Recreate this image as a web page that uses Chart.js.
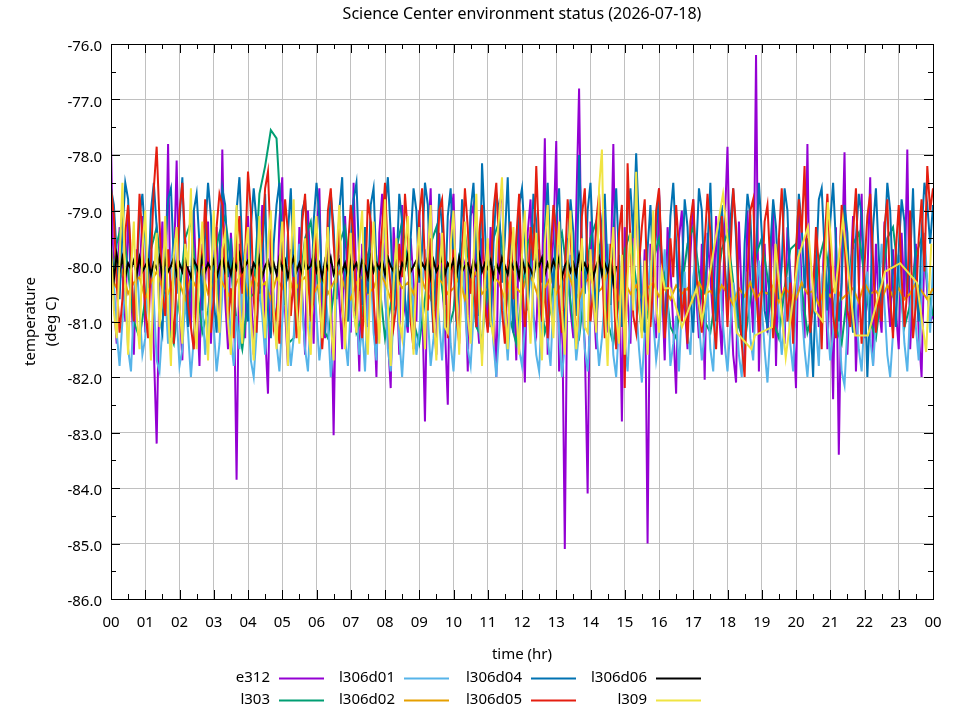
<!DOCTYPE html>
<html>
<head>
<meta charset="utf-8">
<title>Science Center environment status</title>
<script src="https://cdn.jsdelivr.net/npm/chart.js@4.4.1/dist/chart.umd.min.js"></script>
<style>
  html, body { margin: 0; padding: 0; background: #fff; }
  #wrap { width: 960px; height: 720px; }
</style>
</head>
<body>
<div id="wrap"><canvas id="envChart" width="960" height="720"></canvas></div>
<script>
// ---------------------------------------------------------------
// Data (deg C). Most sensors: one value every
// 5 minutes (12 per row = 1 hour). l303 / l306d02: every 10 minutes.
// ---------------------------------------------------------------
const hourLabels = ["00","01","02","03","04","05","06","07","08","09","10","11",
                    "12","13","14","15","16","17","18","19","20","21","22","23","00"];
const tempTicks = [-86, -85, -84, -83, -82, -81, -80, -79, -78, -77, -76];
const tempLabels = ["-86.0","-85.0","-84.0","-83.0","-82.0","-81.0","-80.0","-79.0","-78.0","-77.0","-76.0"];

const e312 = [
  -77.8,-80.6,-81.4,-79.3,-80.1,-81.0,-79.0,-80.4,-81.6,-79.7,-80.2,-79.1,
  -81.2,-80.0,-79.4,-81.5,-83.2,-80.3,-79.2,-80.8,-77.8,-81.3,-80.1,-78.1,
  -80.7,-81.7,-79.5,-80.2,-81.1,-79.0,-80.5,-81.8,-79.6,-80.3,-79.2,-81.4,
  -80.0,-79.3,-81.2,-77.9,-80.6,-81.5,-79.4,-80.2,-83.85,-79.6,-80.9,-81.3,
  -79.1,-80.4,-81.6,-79.8,-80.0,-78.9,-81.2,-82.3,-79.5,-80.7,-81.0,-79.2,
  -78.4,-80.8,-81.8,-79.7,-80.3,-81.1,-79.3,-80.5,-81.6,-79.0,-80.2,-81.4,
  -79.5,-78.6,-80.9,-81.3,-79.4,-80.1,-83.05,-79.8,-80.6,-81.5,-79.1,-80.3,
  -81.2,-78.5,-80.4,-81.9,-79.6,-80.0,-81.1,-79.2,-80.7,-82.0,-79.4,-78.7,
  -80.5,-81.3,-82.2,-79.3,-80.1,-81.6,-78.9,-80.8,-81.2,-79.5,-80.3,-81.0,
  -79.0,-80.6,-82.8,-79.7,-78.6,-80.9,-81.6,-79.4,-80.2,-81.1,-82.5,-79.2,
  -78.7,-80.5,-81.3,-79.8,-80.0,-81.9,-79.1,-78.9,-80.7,-81.4,-79.5,-80.2,
  -81.1,-79.3,-80.6,-82.0,-79.0,-78.6,-80.4,-81.5,-79.6,-80.1,-81.7,-79.2,
  -80.5,-82.1,-79.4,-78.8,-80.9,-81.2,-79.7,-80.3,-77.7,-81.6,-80.2,-79.5,
  -77.75,-81.9,-80.4,-85.1,-79.5,-80.8,-81.3,-79.0,-76.8,-80.6,-81.4,-84.1,
  -79.2,-80.5,-81.5,-79.6,-80.1,-79.0,-81.2,-80.4,-77.8,-81.0,-79.8,-82.8,
  -79.3,-80.6,-81.4,-79.1,-78.9,-80.2,-81.0,-79.7,-85.0,-79.6,-80.9,-81.3,
  -78.6,-80.3,-81.7,-79.3,-80.0,-81.1,-82.3,-79.5,-79.0,-80.7,-81.5,-79.8,
  -78.8,-80.5,-81.3,-79.6,-82.05,-79.4,-80.2,-81.0,-79.1,-80.8,-81.6,-79.3,
  -77.85,-80.4,-81.6,-82.1,-79.2,-80.6,-81.7,-79.0,-80.3,-81.2,-76.2,-81.9,
  -80.0,-79.6,-81.2,-80.5,-78.9,-81.8,-79.5,-80.7,-81.4,-79.3,-80.1,-81.0,
  -82.2,-79.0,-80.4,-81.3,-77.8,-81.4,-80.2,-79.8,-81.1,-80.6,-79.4,-81.5,
  -80.0,-82.4,-79.3,-83.4,-80.1,-77.95,-81.6,-80.3,-79.1,-81.9,-80.5,-78.7,
  -81.3,-80.2,-78.4,-81.8,-79.6,-80.7,-81.2,-79.2,-80.4,-81.1,-79.7,-80.8,
  -81.5,-79.4,-80.6,-77.9,-81.5,-80.3,-79.6,-81.2,-82.0,-79.6,-80.5,-81.0,
  -80.9
];

// 10-minute samples
const l303 = [
  -80.4,-79.6,-79.2,-80.1,-81.0,-81.3,-80.6,-79.7,-79.3,-80.2,
  -81.1,-81.4,-80.5,-79.5,-79.2,-80.3,-81.2,-80.8,-79.9,-79.4,
  -79.1,-80.0,-81.0,-81.5,-80.6,-80.5,-78.7,-78.2,-77.55,-77.7,
  -79.5,-81.4,-81.3,-80.4,-79.5,-79.2,-80.1,-81.1,-81.3,-80.5,
  -79.6,-79.3,-80.2,-81.2,-80.9,-79.8,-79.4,-80.3,-81.3,-80.7,
  -79.7,-79.2,-80.0,-81.0,-81.4,-80.6,-79.6,-79.3,-80.4,-81.2,
  -80.8,-79.8,-79.4,-80.2,-81.1,-81.3,-80.3,-79.5,-79.2,-80.1,
  -81.0,-81.4,-80.5,-79.6,-79.3,-80.3,-81.2,-80.8,-79.7,-79.4,
  -80.2,-81.1,-81.3,-80.4,-79.5,-79.2,-80.1,-81.0,-81.4,-80.6,
  -79.7,-79.4,-80.3,-81.2,-80.9,-79.9,-79.5,-80.2,-81.1,-81.3,
  -80.4,-79.6,-79.3,-80.1,-81.0,-81.2,-80.5,-79.7,-79.4,-80.3,
  -81.1,-81.4,-80.6,-79.8,-79.5,-80.2,-81.0,-81.3,-80.4,-79.7,
  -79.6,-80.4,-81.2,-80.8,-79.9,-79.5,-80.3,-81.1,-81.4,-80.5,
  -79.6,-79.4,-80.2,-81.0,-81.3,-80.4,-79.5,-79.3,-80.2,-81.1,
  -80.7,-79.8,-79.5,-80.3,-80.9
];

const l306d01 = [
  -79.6,-80.3,-81.2,-81.8,-81.0,-80.4,-81.5,-81.9,-80.7,-79.9,-80.8,-81.6,
  -81.3,-80.2,-79.7,-80.6,-81.7,-81.9,-81.1,-80.5,-81.4,-80.0,-79.5,-80.9,
  -81.8,-81.5,-80.6,-81.2,-82.0,-81.3,-80.1,-79.8,-80.7,-81.6,-81.0,-80.3,
  -81.1,-81.9,-81.4,-80.5,-79.6,-80.4,-81.3,-81.8,-80.9,-81.5,-80.2,-79.7,
  -80.6,-81.7,-82.0,-81.2,-80.4,-80.9,-81.6,-80.8,-79.9,-80.5,-81.4,-81.9,
  -81.0,-80.3,-81.1,-81.8,-81.3,-80.2,-79.6,-80.7,-81.5,-81.9,-80.8,-80.1,
  -80.9,-81.7,-81.2,-80.4,-81.0,-82.0,-81.4,-80.6,-79.8,-80.5,-81.3,-81.8,
  -80.7,-79.9,-80.8,-81.6,-81.1,-81.9,-80.5,-80.0,-81.2,-81.7,-80.3,-79.5,
  -80.4,-81.5,-81.9,-80.9,-80.2,-81.3,-82.0,-81.1,-80.6,-79.9,-80.8,-81.6,
  -81.2,-80.5,-79.7,-80.9,-81.8,-81.3,-80.4,-81.0,-81.7,-80.6,-80.0,-81.4,
  -81.9,-81.0,-80.3,-79.8,-80.7,-81.5,-81.8,-80.9,-80.2,-81.1,-81.6,-80.4,
  -79.6,-80.6,-81.4,-82.0,-81.2,-80.5,-81.0,-81.7,-80.8,-79.9,-80.6,-81.5,
  -81.8,-81.1,-80.3,-79.7,-80.9,-81.6,-81.9,-80.7,-80.1,-81.3,-81.8,-80.6,
  -80.0,-81.2,-82.0,-81.4,-80.5,-79.8,-80.8,-81.7,-81.2,-80.4,-81.5,-81.9,
  -80.9,-80.2,-81.1,-81.8,-81.3,-80.6,-79.6,-80.5,-81.6,-82.0,-81.0,-80.3,
  -81.4,-81.9,-80.8,-80.0,-80.7,-81.5,-82.1,-81.2,-80.4,-79.9,-81.0,-81.7,
  -81.3,-80.5,-79.7,-80.6,-81.8,-81.4,-80.9,-81.9,-80.7,-80.1,-81.2,-81.6,
  -80.2,-79.8,-81.0,-81.7,-81.2,-80.4,-81.5,-81.9,-80.6,-79.5,-80.8,-81.4,
  -81.9,-81.1,-80.3,-80.9,-81.6,-82.0,-80.8,-80.1,-81.3,-81.7,-80.5,-79.9,
  -80.7,-81.5,-82.1,-81.2,-80.4,-79.8,-80.9,-81.6,-81.0,-80.2,-81.4,-81.9,
  -80.6,-79.7,-80.8,-81.5,-82.0,-81.3,-80.5,-81.1,-81.8,-80.3,-79.9,-81.0,
  -81.7,-81.2,-80.4,-81.0,-81.9,-82.15,-81.1,-80.2,-79.7,-80.8,-81.5,-81.9,
  -80.9,-80.1,-81.3,-81.8,-81.0,-80.4,-79.6,-80.7,-81.6,-82.0,-81.2,-80.5,
  -79.8,-80.6,-81.4,-81.9,-80.8,-80.2,-81.1,-81.7,-80.4,-79.4,-80.3,-81.2,
  -80.0
];

// 10-minute samples
const l306d02 = [
  -80.2,-80.4,-80.1,-80.5,-80.3,-80.2,-80.6,-80.3,-80.1,-80.4,
  -80.5,-80.2,-80.3,-80.6,-80.2,-80.4,-80.1,-80.5,-80.3,-80.2,
  -80.4,-80.6,-80.3,-80.1,-80.5,-80.2,-80.4,-80.3,-80.6,-80.2,
  -80.4,-80.1,-80.5,-80.3,-80.2,-80.6,-80.4,-80.2,-80.5,-80.3,
  -80.1,-80.4,-80.6,-80.3,-80.2,-80.5,-80.4,-80.1,-80.3,-80.6,
  -80.2,-80.4,-80.3,-80.5,-80.1,-80.4,-80.6,-80.2,-80.3,-80.5,
  -80.4,-80.2,-80.6,-80.3,-80.1,-80.5,-80.4,-80.2,-80.3,-80.6,
  -80.2,-80.4,-80.5,-80.1,-80.3,-80.6,-80.4,-80.2,-80.5,-80.3,
  -80.1,-80.4,-80.6,-80.3,-80.2,-80.5,-80.4,-80.1,-80.3,-80.6,
  -80.3,-80.5,-80.35,-80.6,-80.4,-80.3,-80.55,-80.4,-80.6,-80.35,
  -80.5,-80.4,-80.65,-80.3,-80.5,-80.45,-80.6,-80.35,-80.5,-80.7,
  -80.4,-80.55,-80.3,-80.6,-80.45,-80.5,-80.35,-80.65,-80.4,-80.5,
  -80.6,-80.3,-80.5,-80.45,-80.7,-80.4,-80.55,-80.35,-80.6,-80.5,
  -80.4,-80.65,-80.3,-80.5,-80.45,-80.6,-80.35,-80.55,-80.4,-80.6,
  -80.5,-80.3,-80.45,-80.6,-80.4
];

const l306d04 = [
  -78.6,-78.9,-79.8,-80.6,-79.4,-78.5,-78.8,-80.1,-81.0,-80.2,-79.1,-78.7,
  -79.5,-80.4,-79.0,-78.5,-79.3,-80.9,-81.2,-79.7,-78.8,-78.6,-79.9,-80.5,
  -79.2,-78.4,-80.0,-81.1,-80.3,-79.0,-78.7,-79.6,-80.8,-79.4,-78.5,-79.1,
  -80.6,-81.2,-79.8,-78.6,-78.9,-80.2,-79.5,-80.9,-79.0,-78.4,-79.7,-80.4,
  -81.0,-79.3,-78.6,-79.2,-80.5,-79.9,-78.7,-80.8,-81.3,-79.6,-78.9,-78.5,
  -79.8,-80.7,-79.4,-78.6,-80.1,-81.1,-80.3,-79.0,-78.8,-79.5,-80.9,-79.2,
  -78.5,-79.1,-80.4,-81.2,-79.7,-78.7,-79.3,-80.6,-79.0,-78.4,-80.2,-81.0,
  -79.6,-78.8,-78.5,-79.9,-80.7,-79.3,-80.5,-78.9,-78.6,-80.0,-81.2,-79.8,
  -79.0,-78.4,-79.4,-80.8,-80.1,-78.7,-79.2,-80.6,-81.1,-79.5,-78.6,-79.0,
  -80.3,-79.7,-78.5,-78.9,-80.4,-81.2,-79.8,-78.7,-79.3,-80.7,-79.1,-78.6,
  -79.9,-81.0,-80.2,-78.8,-79.4,-80.6,-79.0,-78.5,-79.7,-80.9,-78.15,-79.3,
  -80.5,-81.1,-79.6,-78.7,-79.0,-80.3,-79.5,-78.4,-80.0,-81.2,-79.8,-78.9,
  -78.6,-79.5,-80.8,-80.0,-78.7,-79.2,-80.6,-81.0,-79.3,-78.5,-79.9,-80.4,
  -79.1,-78.6,-80.2,-81.2,-79.7,-78.8,-79.4,-80.9,-78.0,-79.6,-80.5,-79.0,
  -78.5,-79.8,-81.0,-80.3,-79.2,-78.7,-80.1,-80.7,-79.4,-78.6,-79.9,-81.1,
  -80.4,-79.0,-78.6,-79.5,-77.97,-79.3,-80.8,-81.2,-79.7,-78.9,-80.2,-79.4,
  -78.7,-80.0,-81.1,-80.4,-79.1,-78.5,-79.6,-80.9,-80.2,-78.8,-79.3,-80.6,
  -81.2,-79.8,-78.6,-79.0,-80.5,-79.7,-78.5,-80.3,-81.0,-79.4,-78.9,-79.9,
  -80.7,-79.2,-78.6,-79.5,-80.9,-81.3,-79.6,-78.7,-79.1,-80.4,-79.8,-78.5,
  -79.4,-80.8,-81.1,-79.7,-78.8,-79.3,-80.6,-80.0,-78.6,-79.0,-80.5,-81.2,
  -79.9,-78.7,-79.3,-80.4,-79.5,-80.9,-82.0,-80.1,-78.8,-78.6,-79.7,-80.8,
  -79.2,-78.5,-79.6,-81.0,-80.3,-78.9,-79.4,-80.7,-81.2,-79.5,-78.7,-79.1,
  -80.2,-82.0,-80.6,-79.3,-78.6,-79.8,-80.9,-79.6,-78.5,-79.0,-80.4,-81.1,
  -79.7,-78.8,-79.2,-80.5,-79.9,-78.6,-80.3,-81.0,-79.4,-78.5,-78.9,-79.6,
  -78.9
];

const l306d05 = [
  -78.6,-79.1,-80.3,-81.2,-80.6,-79.4,-78.9,-79.8,-81.0,-80.1,-78.7,-79.5,
  -80.8,-81.3,-79.9,-78.6,-77.85,-79.2,-80.5,-80.9,-79.7,-80.4,-81.4,-80.2,
  -79.0,-78.5,-79.6,-80.7,-81.1,-81.5,-80.3,-79.5,-80.0,-78.8,-79.9,-81.2,
  -80.6,-79.3,-78.7,-78.9,-80.2,-81.0,-80.4,-81.3,-79.6,-79.1,-80.5,-79.8,
  -78.3,-79.0,-80.6,-81.2,-80.0,-79.5,-78.6,-78.3,-79.7,-81.1,-80.8,-81.4,
  -79.9,-78.8,-79.4,-80.9,-80.2,-81.3,-80.5,-79.2,-78.7,-80.1,-81.0,-80.6,
  -79.3,-80.4,-81.5,-80.7,-79.0,-78.6,-79.6,-80.3,-79.1,-80.8,-81.2,-79.7,
  -78.9,-79.5,-80.9,-80.1,-81.3,-80.5,-78.8,-79.2,-80.6,-81.4,-80.0,-79.3,
  -78.5,-79.8,-80.4,-81.1,-80.7,-79.6,-80.2,-78.7,-79.4,-81.0,-81.5,-80.3,
  -79.1,-78.6,-80.0,-80.8,-79.5,-81.2,-80.6,-79.0,-78.8,-79.9,-81.3,-80.4,
  -79.7,-80.9,-81.4,-79.8,-78.6,-79.3,-80.5,-80.1,-81.1,-79.4,-78.9,-80.7,
  -81.2,-80.3,-79.0,-78.5,-79.7,-80.8,-81.4,-80.0,-79.2,-80.6,-79.5,-78.7,
  -80.2,-81.1,-80.5,-79.3,-79.9,-78.2,-79.6,-81.0,-80.4,-81.3,-79.8,-78.9,
  -79.4,-80.7,-81.2,-80.1,-78.8,-79.5,-80.3,-81.4,-80.6,-79.1,-78.6,-80.0,
  -81.0,-80.4,-79.2,-78.7,-79.8,-81.3,-80.8,-79.6,-80.2,-81.5,-79.4,-78.9,
  -82.2,-78.15,-79.6,-80.9,-81.2,-80.0,-79.3,-78.8,-80.5,-81.1,-80.3,-79.0,
  -78.6,-79.9,-81.3,-80.6,-79.5,-80.2,-78.9,-79.7,-81.0,-80.4,-81.4,-79.2,
  -78.8,-80.1,-80.7,-81.2,-79.6,-78.7,-79.4,-80.9,-81.5,-80.3,-79.1,-80.0,
  -81.1,-79.8,-78.6,-79.3,-80.6,-81.4,-82.0,-80.2,-79.0,-78.8,-80.4,-81.2,
  -80.5,-79.2,-78.9,-80.0,-81.3,-80.7,-79.5,-78.6,-79.9,-81.0,-80.3,-81.4,
  -79.7,-78.8,-79.4,-78.2,-80.1,-81.2,-80.6,-79.3,-80.0,-81.5,-79.6,-78.7,
  -79.8,-80.9,-81.3,-80.2,-78.9,-79.5,-80.8,-81.1,-79.4,-78.6,-80.3,-81.4,
  -80.0,-79.1,-78.7,-79.9,-81.2,-80.5,-81.0,-79.3,-78.8,-80.6,-81.3,-79.7,
  -78.9,-80.2,-81.1,-80.4,-79.0,-81.3,-80.7,-79.5,-78.8,-80.1,-78.2,-79.0,
  -78.6
];

// l306d06 stops logging at about 14:45
const l306d06 = [
  -79.7,-80.25,-79.8,-80.1,-79.85,-80.2,-79.95,-80.05,-79.9,-80.15,-79.85,-80.1,
  -80.0,-79.9,-80.15,-79.95,-80.05,-79.85,-80.2,-79.9,-80.1,-80.0,-79.85,-80.15,
  -79.95,-80.1,-79.85,-80.05,-80.2,-79.9,-80.0,-80.15,-79.85,-80.1,-79.95,-80.05,
  -79.9,-80.2,-80.0,-79.85,-80.1,-79.95,-80.15,-79.9,-80.05,-79.8,-80.1,-80.0,
  -79.9,-80.15,-79.95,-80.05,-79.85,-80.2,-80.0,-79.9,-80.1,-79.95,-80.15,-79.85,
  -80.05,-79.9,-80.2,-80.0,-79.85,-80.1,-79.95,-80.15,-79.9,-80.05,-80.0,-79.8,
  -80.1,-79.95,-80.2,-79.9,-80.05,-79.85,-80.15,-80.0,-79.9,-80.1,-79.95,-80.2,
  -79.85,-80.05,-79.95,-80.15,-79.9,-80.0,-80.2,-79.85,-80.1,-79.95,-80.05,-79.9,
  -80.15,-79.85,-80.0,-80.1,-79.9,-80.2,-79.95,-80.05,-79.8,-80.1,-80.0,-79.9,
  -80.15,-79.95,-80.05,-79.85,-80.2,-79.9,-80.1,-80.0,-79.85,-80.15,-79.95,-80.05,
  -79.9,-80.2,-79.85,-80.1,-80.0,-79.95,-80.15,-79.9,-80.05,-79.8,-80.1,-79.95,
  -80.05,-79.9,-80.2,-79.95,-80.1,-79.85,-80.0,-80.15,-79.9,-80.05,-79.95,-80.2,
  -79.85,-80.1,-79.95,-80.05,-80.2,-79.9,-80.0,-79.85,-80.15,-79.95,-80.1,-79.9,
  -80.05,-79.85,-80.2,-80.0,-79.9,-80.1,-79.95,-80.15,-79.8,-80.05,-79.95,-80.1,
  -79.9,-80.2,-80.0,-79.85,-80.15,-79.95,-80.1,-79.9,-80.3,-80.0
];

// l309: 5-minute samples until ~16:10, then only sparse readings
const l309 = [
  -79.6,-80.8,-81.3,-79.9,-78.5,-80.4,-81.6,-80.1,-79.2,-80.9,-81.5,-79.7,
  -79.0,-80.6,-81.7,-80.2,-79.4,-81.1,-80.5,-79.1,-80.8,-81.8,-79.8,-79.3,
  -80.7,-81.4,-79.6,-80.0,-78.6,-80.9,-81.5,-79.9,-79.2,-80.6,-81.7,-80.3,
  -79.0,-80.5,-81.2,-79.7,-79.4,-81.0,-81.6,-80.1,-78.9,-80.7,-81.4,-79.8,
  -79.3,-80.9,-81.7,-80.2,-79.1,-80.6,-81.3,-79.6,-79.0,-80.8,-81.5,-80.0,
  -79.2,-80.4,-81.8,-79.9,-78.8,-80.7,-81.4,-80.3,-79.5,-81.1,-81.6,-79.7,
  -79.1,-80.5,-81.3,-80.0,-79.3,-81.0,-81.7,-79.8,-78.9,-80.6,-81.5,-80.2,
  -79.4,-80.8,-81.2,-79.6,-79.0,-80.9,-81.6,-80.1,-79.2,-80.4,-81.4,-79.9,
  -78.8,-80.7,-81.8,-80.3,-79.5,-81.0,-81.3,-79.7,-79.1,-80.6,-81.6,-80.0,
  -79.3,-80.5,-81.5,-79.8,-78.9,-80.8,-81.7,-80.2,-79.4,-81.1,-81.2,-79.6,
  -79.0,-80.4,-81.6,-80.1,-79.2,-80.9,-81.4,-79.9,-78.7,-80.6,-81.8,-80.3,
  -79.5,-81.0,-81.3,-79.7,-79.1,-78.4,-80.7,-81.5,-80.0,-79.3,-80.8,-81.6,
  -79.8,-79.0,-80.5,-81.4,-80.2,-79.4,-80.9,-81.7,-79.6,-78.9,-80.6,-81.3,
  -80.1,-79.2,-80.8,-81.6,-79.9,-79.0,-80.4,-81.5,-80.3,-79.5,-81.1,-81.2,
  -79.7,-80.6,-81.2,-78.6,-77.9,-80.7,-81.8,-80.0,-79.3,-80.9,-81.4,-79.8,
  -81.6,-80.2,-79.4,-80.8,-78.3,-80.6,-81.3,-79.9,-81.6,-80.4,-79.0,-80.7,
  -81.2,-80.1,-80.4
];
const l309LateHours = [16.33,16.67,17.1,17.25,17.87,18.27,18.7,18.8,19.3,19.4,19.7,20.06,20.35,
                       20.55,20.78,20.93,21.14,21.37,21.72,22.1,22.6,23.04,23.53,23.8,23.95];
const l309Late = [-80.4,-81.1,-80.4,-81.0,-78.7,-81.2,-81.5,-81.25,-81.1,-79.6,-81.65,-79.85,-79.3,
                  -80.8,-81.0,-78.85,-80.5,-79.15,-81.25,-81.25,-80.1,-79.95,-80.3,-81.55,-79.6];

// sample times in hours
const hours5 = e312.map((_, i) => i / 12);
const hours10 = l303.map((_, i) => i / 6);
const hours309 = hours5.slice(0, l309.length).concat(l309LateHours);
const values309 = l309.concat(l309Late);

function pts(xs, ys) {
  return ys.map((v, i) => ({ x: xs[i], y: v }));
}

const FONT = '"Noto Sans", "DejaVu Sans", sans-serif';

// frame, inward ticks (gnuplot style), title and key
const gnuplotLook = {
  id: 'gnuplotLook',
  afterDatasetsDraw(chart) {
    const { ctx, chartArea: a, scales: { x, y } } = chart;
    ctx.save();
    ctx.strokeStyle = '#000';
    ctx.lineWidth = 1;
    ctx.beginPath();
    for (let h = 0; h <= 24; h += 0.5) {
      const px = Math.round(x.getPixelForValue(h)) + 0.5;
      const len = h % 1 === 0 ? 9 : 5;
      ctx.moveTo(px, a.bottom); ctx.lineTo(px, a.bottom - len);
      ctx.moveTo(px, a.top); ctx.lineTo(px, a.top + len);
    }
    for (let v = -86; v <= -76; v += 0.5) {
      const py = Math.round(y.getPixelForValue(v)) + 0.5;
      const len = v % 1 === 0 ? 9 : 5;
      ctx.moveTo(a.left, py); ctx.lineTo(a.left + len, py);
      ctx.moveTo(a.right, py); ctx.lineTo(a.right - len, py);
    }
    ctx.stroke();
    ctx.strokeRect(Math.round(a.left) + 0.5, Math.round(a.top) + 0.5,
                   Math.round(a.right - a.left), Math.round(a.bottom - a.top));
    ctx.restore();
  },
  afterDraw(chart) {
    const { ctx, chartArea: a } = chart;
    ctx.save();
    ctx.fillStyle = '#000';
    ctx.textBaseline = 'middle';
    ctx.textAlign = 'center';
    ctx.font = '16px ' + FONT;
    ctx.fillText('Science Center environment status (2026-07-18)', (a.left + a.right) / 2, 14);

    // key: 4 columns x 2 rows, filled column by column, text then sample
    const colRight = [270, 395, 522, 647];
    const rowY = [678, 700];
    ctx.font = '15px ' + FONT;
    ctx.textAlign = 'right';
    chart.data.datasets.forEach((ds, i) => {
      const cx = colRight[Math.floor(i / 2)];
      const cy = rowY[i % 2];
      ctx.fillStyle = '#000';
      ctx.fillText(ds.label, cx, cy);
      ctx.strokeStyle = ds.borderColor;
      ctx.lineWidth = 2;
      ctx.beginPath();
      ctx.moveTo(cx + 9, cy + 0.5);
      ctx.lineTo(cx + 54, cy + 0.5);
      ctx.stroke();
    });
    ctx.restore();
  }
};

function series(label, xs, ys, color, order) {
  return {
    label: label,
    data: pts(xs, ys),
    borderColor: color,
    backgroundColor: color,
    borderWidth: 2,
    pointRadius: 0,
    tension: 0,
    fill: false,
    order: order
  };
}

const ctx = document.getElementById('envChart').getContext('2d');
const envChart = new Chart(ctx, {
  type: 'line',
  data: {
    datasets: [
      series('e312',    hours5,   e312,      '#9400d3', 7),
      series('l303',    hours10,  l303,      '#009e73', 6),
      series('l306d01', hours5,   l306d01,   '#56b4e9', 5),
      series('l306d02', hours10,  l306d02,   '#e69f00', 4),
      series('l306d04', hours5,   l306d04,   '#0072b2', 3),
      series('l306d05', hours5,   l306d05,   '#e51e10', 2),
      series('l306d06', hours5,   l306d06,   '#000000', 1),
      series('l309',    hours309, values309, '#f0e442', 0)
    ]
  },
  options: {
    responsive: false,
    animation: false,
    devicePixelRatio: 1,
    layout: { padding: { top: 44, right: 27, bottom: 51, left: 0 } },
    plugins: {
      legend: { display: false },
      title: { display: false },
      tooltip: { enabled: false }
    },
    scales: {
      x: {
        type: 'linear',
        min: 0,
        max: 24,
        afterFit(scale) { scale.height = 70; },
        ticks: {
          stepSize: 1,
          autoSkip: false,
          maxRotation: 0,
          padding: 15,
          color: '#000',
          font: { family: FONT, size: 15 },
          callback: (v, i) => hourLabels[i]
        },
        grid: { color: '#c0c0c0', lineWidth: 1, drawTicks: false },
        border: { display: false },
        title: {
          display: true,
          text: 'time (hr)',
          color: '#000',
          font: { family: FONT, size: 15 },
          padding: { top: 0, bottom: 5 }
        }
      },
      y: {
        min: -86,
        max: -76,
        afterFit(scale) { scale.width = 111; },
        ticks: {
          stepSize: 1,
          padding: 9,
          labelOffset: 3,
          color: '#000',
          font: { family: FONT, size: 15 },
          callback: (v, i) => tempLabels[tempTicks.indexOf(v)]
        },
        grid: { color: '#c0c0c0', lineWidth: 1, drawTicks: false },
        border: { display: false },
        title: {
          display: true,
          text: ['temperature', '(deg C)'],
          color: '#000',
          font: { family: FONT, size: 15, lineHeight: 1.4 },
          padding: { top: 20, bottom: 0 }
        }
      }
    }
  },
  plugins: [gnuplotLook]
});
</script>
</body>
</html>
